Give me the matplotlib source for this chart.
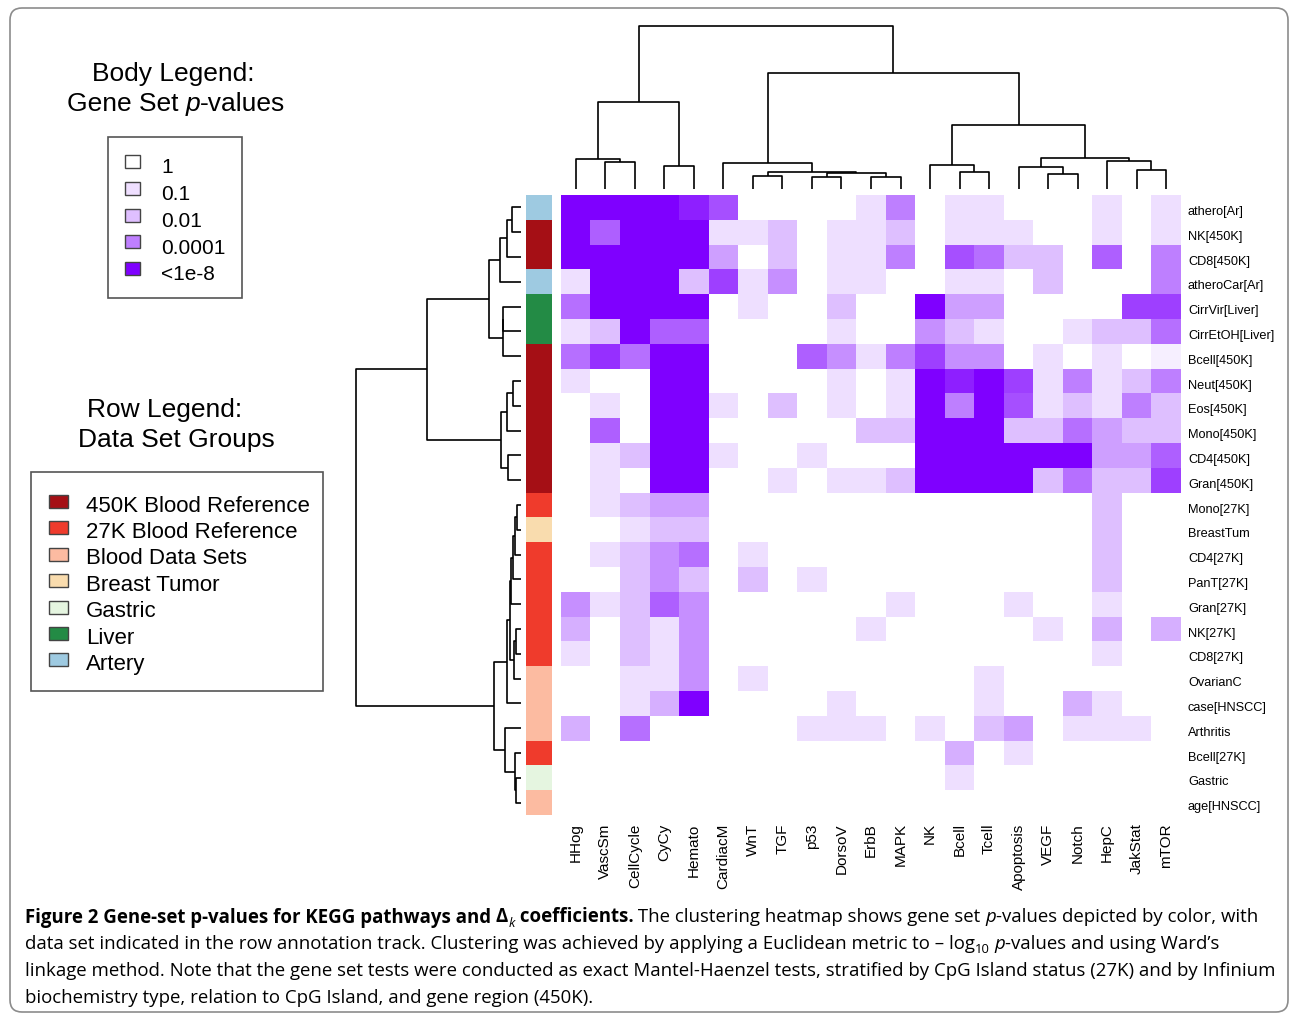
import matplotlib
import numpy as np

matplotlib.use("Agg")
import matplotlib.pyplot as plt
from matplotlib.colors import LinearSegmentedColormap, ListedColormap, Normalize
from matplotlib.patches import FancyBboxPatch, Rectangle
from matplotlib.transforms import ScaledTranslation

W, H = 1290, 1015

# KEGG gene sets (columns), in dendrogram order
pathways = ["HHog", "VascSm", "CellCycle", "CyCy", "Hemato", "CardiacM", "WnT",
            "TGF", "p53", "DorsoV", "ErbB", "MAPK", "NK", "Bcell", "Tcell",
            "Apoptosis", "VEGF", "Notch", "HepC", "JakStat", "mTOR"]

# data sets (rows), in dendrogram order
datasets = ["athero[Ar]", "NK[450K]", "CD8[450K]", "atheroCar[Ar]", "CirrVir[Liver]",
            "CirrEtOH[Liver]", "Bcell[450K]", "Neut[450K]", "Eos[450K]", "Mono[450K]",
            "CD4[450K]", "Gran[450K]", "Mono[27K]", "BreastTum", "CD4[27K]",
            "PanT[27K]", "Gran[27K]", "NK[27K]", "CD8[27K]", "OvarianC",
            "case[HNSCC]", "Arthritis", "Bcell[27K]", "Gastric", "age[HNSCC]"]

group_labels = ["450K Blood Reference", "27K Blood Reference", "Blood Data Sets",
                "Breast Tumor", "Gastric", "Liver", "Artery"]
group_colors = ["#a50f15", "#ef3b2c", "#fcbba1", "#f9dcae", "#e5f5e0", "#238b45", "#9ecae1"]
# index into group_labels for each row
dataset_group = [6, 0, 0, 6, 5, 5, 0, 0, 0, 0, 0, 0, 1, 3, 1, 1, 1, 1, 1, 2, 2, 2, 1, 4, 2]

# -log10 p-values (capped at 8, i.e. p < 1e-8)
neg_log10_p = np.array([
    [8, 8, 8, 8, 7, 5.5, 0, 0, 0, 0, 1, 4, 0, 1, 1, 0, 0, 0, 1, 0, 1],
    [8, 5, 8, 8, 8, 1, 1, 2, 0, 1, 1, 2, 0, 1, 1, 1, 0, 0, 1, 0, 1],
    [8, 8, 8, 8, 8, 3, 0, 2, 0, 1, 1, 4, 0, 5.5, 4.5, 2, 2, 0, 5, 0, 4],
    [1, 8, 8, 8, 2, 6, 1, 3.5, 0, 1, 1, 0, 0, 1, 1, 0, 2, 0, 0, 0, 4],
    [4.5, 8, 8, 8, 8, 0, 1, 0, 0, 2, 0, 0, 8, 3, 3, 0, 0, 0, 0, 6, 6],
    [1, 2, 8, 5, 5, 0, 0, 0, 0, 1, 0, 0, 3.5, 2, 1, 0, 0, 1, 2, 2, 4.5],
    [4.5, 6.5, 4.5, 8, 8, 0, 0, 0, 5, 3.5, 1, 4, 6, 3.5, 3.5, 0, 1, 0, 1, 0, 0.5],
    [1, 0, 0, 8, 8, 0, 0, 0, 0, 1, 0, 1, 8, 7, 8, 6, 1, 4, 1, 2, 4],
    [0, 1, 0, 8, 8, 1, 0, 2, 0, 1, 0, 1, 8, 4, 8, 5.5, 1, 2, 1, 4, 2],
    [0, 5, 0, 8, 8, 0, 0, 0, 0, 0, 2, 2, 8, 8, 8, 2, 2, 4.5, 3, 2, 2],
    [0, 1, 2, 8, 8, 1, 0, 0, 1, 0, 0, 0, 8, 8, 8, 8, 8, 8, 3, 3, 5],
    [0, 1, 0, 8, 8, 0, 0, 1, 0, 1, 1, 2, 8, 8, 8, 8, 2, 4.5, 2, 2, 6],
    [0, 1, 2, 3, 3, 0, 0, 0, 0, 0, 0, 0, 0, 0, 0, 0, 0, 0, 2, 0, 0],
    [0, 0, 1, 2, 2, 0, 0, 0, 0, 0, 0, 0, 0, 0, 0, 0, 0, 0, 2, 0, 0],
    [0, 1, 2, 3.5, 4.5, 0, 1, 0, 0, 0, 0, 0, 0, 0, 0, 0, 0, 0, 2, 0, 0],
    [0, 0, 2, 3.5, 2, 0, 2, 0, 1, 0, 0, 0, 0, 0, 0, 0, 0, 0, 2, 0, 0],
    [3.5, 1, 2, 5, 3.5, 0, 0, 0, 0, 0, 0, 1, 0, 0, 0, 1, 0, 0, 1, 0, 0],
    [2.5, 0, 2, 1, 3.5, 0, 0, 0, 0, 0, 1, 0, 0, 0, 0, 0, 1, 0, 2.5, 0, 2.5],
    [1, 0, 2, 1, 3.5, 0, 0, 0, 0, 0, 0, 0, 0, 0, 0, 0, 0, 0, 1, 0, 0],
    [0, 0, 1, 1, 3.5, 0, 1, 0, 0, 0, 0, 0, 0, 0, 1, 0, 0, 0, 0, 0, 0],
    [0, 0, 1, 2.5, 8, 0, 0, 0, 0, 1, 0, 0, 0, 0, 1, 0, 0, 2.5, 1, 0, 0],
    [2.5, 0, 4.5, 0, 0, 0, 0, 0, 1, 1, 1, 0, 1, 0, 2, 3, 0, 1, 1, 1, 0],
    [0, 0, 0, 0, 0, 0, 0, 0, 0, 0, 0, 0, 0, 2.5, 0, 1, 0, 0, 0, 0, 0],
    [0, 0, 0, 0, 0, 0, 0, 0, 0, 0, 0, 0, 0, 1, 0, 0, 0, 0, 0, 0, 0],
    [0, 0, 0, 0, 0, 0, 0, 0, 0, 0, 0, 0, 0, 0, 0, 0, 0, 0, 0, 0, 0],
])

legend_pvals = ["1", "0.1", "0.01", "0.0001", "<1e-8"]
legend_levels = [0, 1, 2, 4, 8]

# merges (child a, child b, height); leaves are 0..n-1, merge k gets id n+k
row_merges = [
    (0, 1, 9.3), (25, 2, 14.3), (26, 3, 21), (4, 5, 17.7), (28, 6, 18.3),
    (27, 29, 31.7), (7, 8, 8.3), (31, 9, 14.3), (10, 11, 13.3), (32, 33, 20),
    (30, 34, 94), (12, 13, 4.3), (36, 14, 6.3), (37, 15, 8.3), (38, 16, 10),
    (17, 18, 5.3), (40, 19, 7.3), (39, 41, 11), (42, 20, 14.3), (23, 24, 5),
    (22, 44, 6), (21, 45, 16), (43, 46, 27.3), (35, 47, 165),
]
col_merges = [
    (1, 2, 27), (0, 21, 30), (3, 4, 23), (22, 23, 87), (6, 7, 13),
    (8, 9, 11.6), (10, 11, 11.6), (26, 27, 16.5), (25, 28, 17.5), (5, 29, 26.5),
    (13, 14, 17), (12, 31, 24.5), (16, 17, 14.6), (15, 33, 22), (19, 20, 19),
    (18, 35, 28), (34, 36, 31.4), (32, 37, 64), (30, 38, 116), (24, 39, 163),
]

caption_lines = [
    [("Figure 2 Gene-set p-values for KEGG pathways and ", "b"), ("Δ", "b"), ("k", "subi"),
     (" coefficients.", "b"), (" The clustering heatmap shows gene set ", "r"), ("p", "i"),
     ("-values depicted by color, with", "r")],
    [("data set indicated in the row annotation track. Clustering was achieved by "
      "applying a Euclidean metric to \u2013 log", "r"), ("10", "sub"), (" ", "r"), ("p", "i"),
     ("-values and using Ward\u2019s", "r")],
    [("linkage method. Note that the gene set tests were conducted as exact "
      "Mantel-Haenzel tests, stratified by CpG Island status (27K) and by Infinium", "r")],
    [("biochemistry type, relation to CpG Island, and gene region (450K).", "r")],
]

LABEL_FONT = "Liberation Sans"
CAPTION_FONT = "Open Sans"

fig = plt.figure(figsize=(W / 100, H / 100), dpi=100)
renderer = fig.canvas.get_renderer()

ax_bg = fig.add_axes([0, 0, 1, 1])
ax_bg.set_xlim(0, W)
ax_bg.set_ylim(H, 0)
ax_bg.axis("off")


def px_axes(x0, y0, x1, y1):
    return fig.add_axes([x0 / W, 1 - y1 / H, (x1 - x0) / W, (y1 - y0) / H])


def dendro_segments(merges, n):
    pos = [float(i) for i in range(n)]
    height = [0.0] * n
    segs = []
    for a, b, h in merges:
        segs.append(([pos[a], pos[a], pos[b], pos[b]], [height[a], h, h, height[b]]))
        pos.append((pos[a] + pos[b]) / 2)
        height.append(h)
    return segs


def run_props(style, size, family):
    props = dict(fontsize=size, family=family)
    if style == "b":
        props["fontweight"] = "bold"
    if style in ("i", "subi"):
        props["fontstyle"] = "italic"
    if style in ("sub", "subi"):
        props["fontsize"] = size * 0.7
    return props


def advance(text, props):
    t = ax_bg.text(0, 0, text + "|", **props)
    w1 = t.get_window_extent(renderer).width
    t.set_text("|")
    w2 = t.get_window_extent(renderer).width
    t.remove()
    return w1 - w2


def draw_runs(x, y, runs, size, family, ha="left"):
    props = [run_props(style, size, family) for _, style in runs]
    widths = [advance(text, p) for (text, _), p in zip(runs, props)]
    if ha == "center":
        x -= sum(widths) / 2
    for (text, style), p, w in zip(runs, props, widths):
        dy = size * 100 / 72 * 0.22 if style in ("sub", "subi") else 0
        ax_bg.text(x, y + dy, text, va="baseline", ha="left", **p)
        x += w


# outer frame
ax_bg.add_patch(FancyBboxPatch((10, 8), 1278, 1004, boxstyle="round,pad=0,rounding_size=12",
                               fc="none", ec="#8c8c8c", lw=1.2))

# heatmap
cmap = LinearSegmentedColormap.from_list("pv", ["#ffffff", "#7f00ff"])
norm = Normalize(0, 8)
ax_h = px_axes(561, 195, 1181, 815)
ax_h.imshow(neg_log10_p, cmap=cmap, norm=norm, aspect="auto", interpolation="nearest")
ax_h.set_xticks(range(len(pathways)))
ax_h.set_xticklabels(pathways, rotation=90, fontsize=11, family=LABEL_FONT)
ax_h.yaxis.tick_right()
ax_h.set_yticks(range(len(datasets)))
ax_h.set_yticklabels(datasets, fontsize=9.2, family=LABEL_FONT)
ax_h.tick_params(axis="x", length=0, pad=6)
ax_h.tick_params(axis="y", length=0, pad=5)
shift = ScaledTranslation(0, -3 / 100, fig.dpi_scale_trans)
for lab in ax_h.get_yticklabels():
    lab.set_transform(lab.get_transform() + shift)
for s in ax_h.spines.values():
    s.set_visible(False)

# row annotation band
ax_band = px_axes(526, 195, 552, 815)
ax_band.imshow(np.array(dataset_group)[:, None], cmap=ListedColormap(group_colors),
               vmin=-0.5, vmax=len(group_colors) - 0.5, aspect="auto", interpolation="nearest")
ax_band.axis("off")

# column dendrogram
ax_cd = px_axes(561, 19, 1181, 189)
for xs, ys in dendro_segments(col_merges, len(pathways)):
    ax_cd.plot(xs, ys, color="black", lw=1.2, solid_capstyle="butt")
ax_cd.set_xlim(-0.5, len(pathways) - 0.5)
ax_cd.set_ylim(0, 170)
ax_cd.axis("off")

# row dendrogram
ax_rd = px_axes(350, 195, 521, 815)
for ps, hs in dendro_segments(row_merges, len(datasets)):
    ax_rd.plot(hs, ps, color="black", lw=1.2, solid_capstyle="butt")
ax_rd.set_xlim(171, 0)
ax_rd.set_ylim(len(datasets) - 0.5, -0.5)
ax_rd.axis("off")

# body legend
draw_runs(173, 80.5, [("Body Legend:", "r")], 19, LABEL_FONT, ha="center")
draw_runs(176, 111, [("Gene Set ", "r"), ("p", "i"), ("-values", "r")], 19, LABEL_FONT,
          ha="center")
ax_bg.add_patch(Rectangle((108, 137), 134, 161, fc="white", ec="#555555", lw=1.2))
for i, (lab, lev) in enumerate(zip(legend_pvals, legend_levels)):
    ax_bg.add_patch(Rectangle((125, 155 + 26.8 * i), 15, 13, fc=cmap(norm(lev)),
                              ec="#444444", lw=1))
    ax_bg.text(161, 173.3 + 26.8 * i, lab, fontsize=15, family=LABEL_FONT, va="baseline")

# row legend
draw_runs(165, 417, [("Row Legend:", "r")], 19, LABEL_FONT, ha="center")
draw_runs(176, 447, [("Data Set Groups", "r")], 19, LABEL_FONT, ha="center")
ax_bg.add_patch(Rectangle((31, 472), 292, 219, fc="white", ec="#555555", lw=1.2))
for i, (lab, col) in enumerate(zip(group_labels, group_colors)):
    ax_bg.add_patch(Rectangle((49, 495 + 26.4 * i), 19, 13, fc=col, ec="#444444", lw=1))
    ax_bg.text(86, 511.5 + 26.4 * i, lab, fontsize=16, family=LABEL_FONT, va="baseline")

# caption: size fitted to the width of the third line
w12 = advance(caption_lines[2][0][0], run_props("r", 12, CAPTION_FONT))
cap_size = 12 * 1242 / w12
for i, runs in enumerate(caption_lines):
    draw_runs(25, 922.5 + 26.8 * i, runs, cap_size, CAPTION_FONT)

fig.savefig("out.png", dpi=100)
